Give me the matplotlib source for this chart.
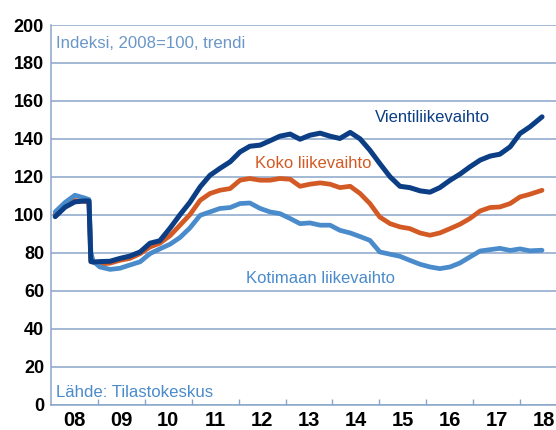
import matplotlib
matplotlib.use("Agg")
import matplotlib.pyplot as plt
import numpy as np

# Decimal years (shared x)
t = [2008.09, 2008.30, 2008.51, 2008.72, 2008.81, 2008.85, 2008.90, 2009.04, 2009.26,
     2009.47, 2009.68, 2009.90, 2010.11, 2010.32, 2010.54, 2010.75, 2010.96, 2011.18,
     2011.39, 2011.60, 2011.82, 2012.03, 2012.24, 2012.46, 2012.67, 2012.88, 2013.10,
     2013.31, 2013.52, 2013.74, 2013.95, 2014.16, 2014.38, 2014.59, 2014.80, 2015.01,
     2015.23, 2015.44, 2015.65, 2015.87, 2016.08, 2016.29, 2016.51, 2016.72, 2016.93,
     2017.15, 2017.36, 2017.57, 2017.79, 2018.00, 2018.21, 2018.47]

vienti = [99.0, 104.0, 106.8, 107.3, 107.2, 75.3, 75.1, 75.3, 75.5,
          77.0, 78.2, 80.4, 85.0, 86.3, 93.0, 100.0, 106.5, 114.7,
          120.8, 124.4, 127.9, 133.1, 136.1, 136.7, 139.0, 141.4, 142.5,
          139.8, 141.9, 143.0, 141.4, 140.2, 143.4, 140.0, 134.0, 127.0,
          120.0, 115.0, 114.3, 112.6, 111.9, 114.3, 118.2, 121.4, 125.2,
          128.8, 130.9, 131.9, 135.8, 142.8, 146.3, 151.6]

koko = [100.5, 104.5, 107.5, 107.0, 106.5, 76.0, 75.0, 74.0, 74.5,
        76.0, 77.0, 79.5, 83.0, 85.0, 89.0, 94.5, 100.0, 107.6,
        111.2, 112.9, 113.8, 118.2, 119.1, 118.2, 118.2, 119.1, 118.7,
        115.0, 116.1, 116.8, 116.1, 114.3, 115.0, 111.2, 105.9, 98.8,
        95.3, 93.6, 92.7, 90.4, 89.2, 90.4, 92.7, 95.0, 98.0,
        102.0, 103.8, 104.1, 105.9, 109.4, 110.8, 112.9]

kotimaa = [101.5, 106.5, 110.3, 108.8, 108.0, 80.0, 75.5, 72.5, 71.2,
           71.8, 73.5, 75.2, 79.5, 82.0, 84.5, 88.0, 93.0, 99.7,
           101.5, 103.3, 103.8, 105.9, 106.2, 103.3, 101.5, 100.6, 98.0,
           95.3, 95.7, 94.5, 94.5, 91.8, 90.4, 88.5, 86.5, 80.4,
           79.2, 78.1, 76.0, 73.9, 72.5, 71.6, 72.5, 74.6, 77.7,
           80.9, 81.6, 82.3, 81.2, 82.0, 81.0, 81.3]

yticks = [0, 20, 40, 60, 80, 100, 120, 140, 160, 180, 200]
year_labels = ["08", "09", "10", "11", "12", "13", "14", "15", "16", "17", "18"]

c_dark = "#0b3e84"
c_orange = "#d35a24"
c_light = "#4a8bcb"
c_grid = "#8aa6c9"
c_text = "#6a96c8"

plt.rcParams['font.family'] = ['Liberation Sans', 'DejaVu Sans']

fig = plt.figure(figsize=(5.56, 4.30), dpi=100)
ax = fig.add_axes([51/556, 25.5/430, 1 - 51/556, (404.5 - 25)/430])

ax.plot(t, koko, color=c_orange, lw=3.4, solid_joinstyle='round', solid_capstyle='round', zorder=3)
ax.plot(t, kotimaa, color=c_light, lw=3.4, solid_joinstyle='round', solid_capstyle='round', zorder=3)
ax.plot(t, vienti, color=c_dark, lw=3.6, solid_joinstyle='round', solid_capstyle='round', zorder=4)

ax.set_xlim(2008, 2008 + 505/46.9)
ax.set_ylim(0, 200)
ax.set_yticks(yticks)
ax.set_yticklabels([str(v) for v in yticks], fontsize=13, fontweight='bold')
ax.tick_params(axis='y', length=0, pad=5)
ax.grid(axis='y', color=c_grid, lw=1.1, zorder=1)

years = np.arange(2008, 2019)
ax.set_xticks(years + 0.5)
ax.set_xticklabels(year_labels, fontsize=14.5, fontweight='bold')
ax.set_xticks(np.arange(2009, 2019), minor=True)
ax.tick_params(axis='x', which='major', length=0, pad=5)
ax.tick_params(axis='x', which='minor', length=4, direction='in', color=c_grid, width=1)

for s in ['top', 'right']:
    ax.spines[s].set_visible(False)
for s in ['left', 'bottom']:
    ax.spines[s].set_color(c_grid)
    ax.spines[s].set_linewidth(1.1)

ax.text(2008.1, 190.5, "Indeksi, 2008=100, trendi", color=c_text, fontsize=12.1, va='center', ha='left')
ax.text(2008.1, 6.3, "Lähde: Tilastokeskus", color=c_light, fontsize=12.1, va='center', ha='left')
ax.text(2016.13, 151.5, "Vientiliikevaihto", color=c_dark, fontsize=12, va='center', ha='center')
ax.text(2013.60, 127, "Koko liikevaihto", color=c_orange, fontsize=12, va='center', ha='center')
ax.text(2013.75, 66.5, "Kotimaan liikevaihto", color=c_light, fontsize=12, va='center', ha='center')

fig.savefig("out.png", dpi=100)
